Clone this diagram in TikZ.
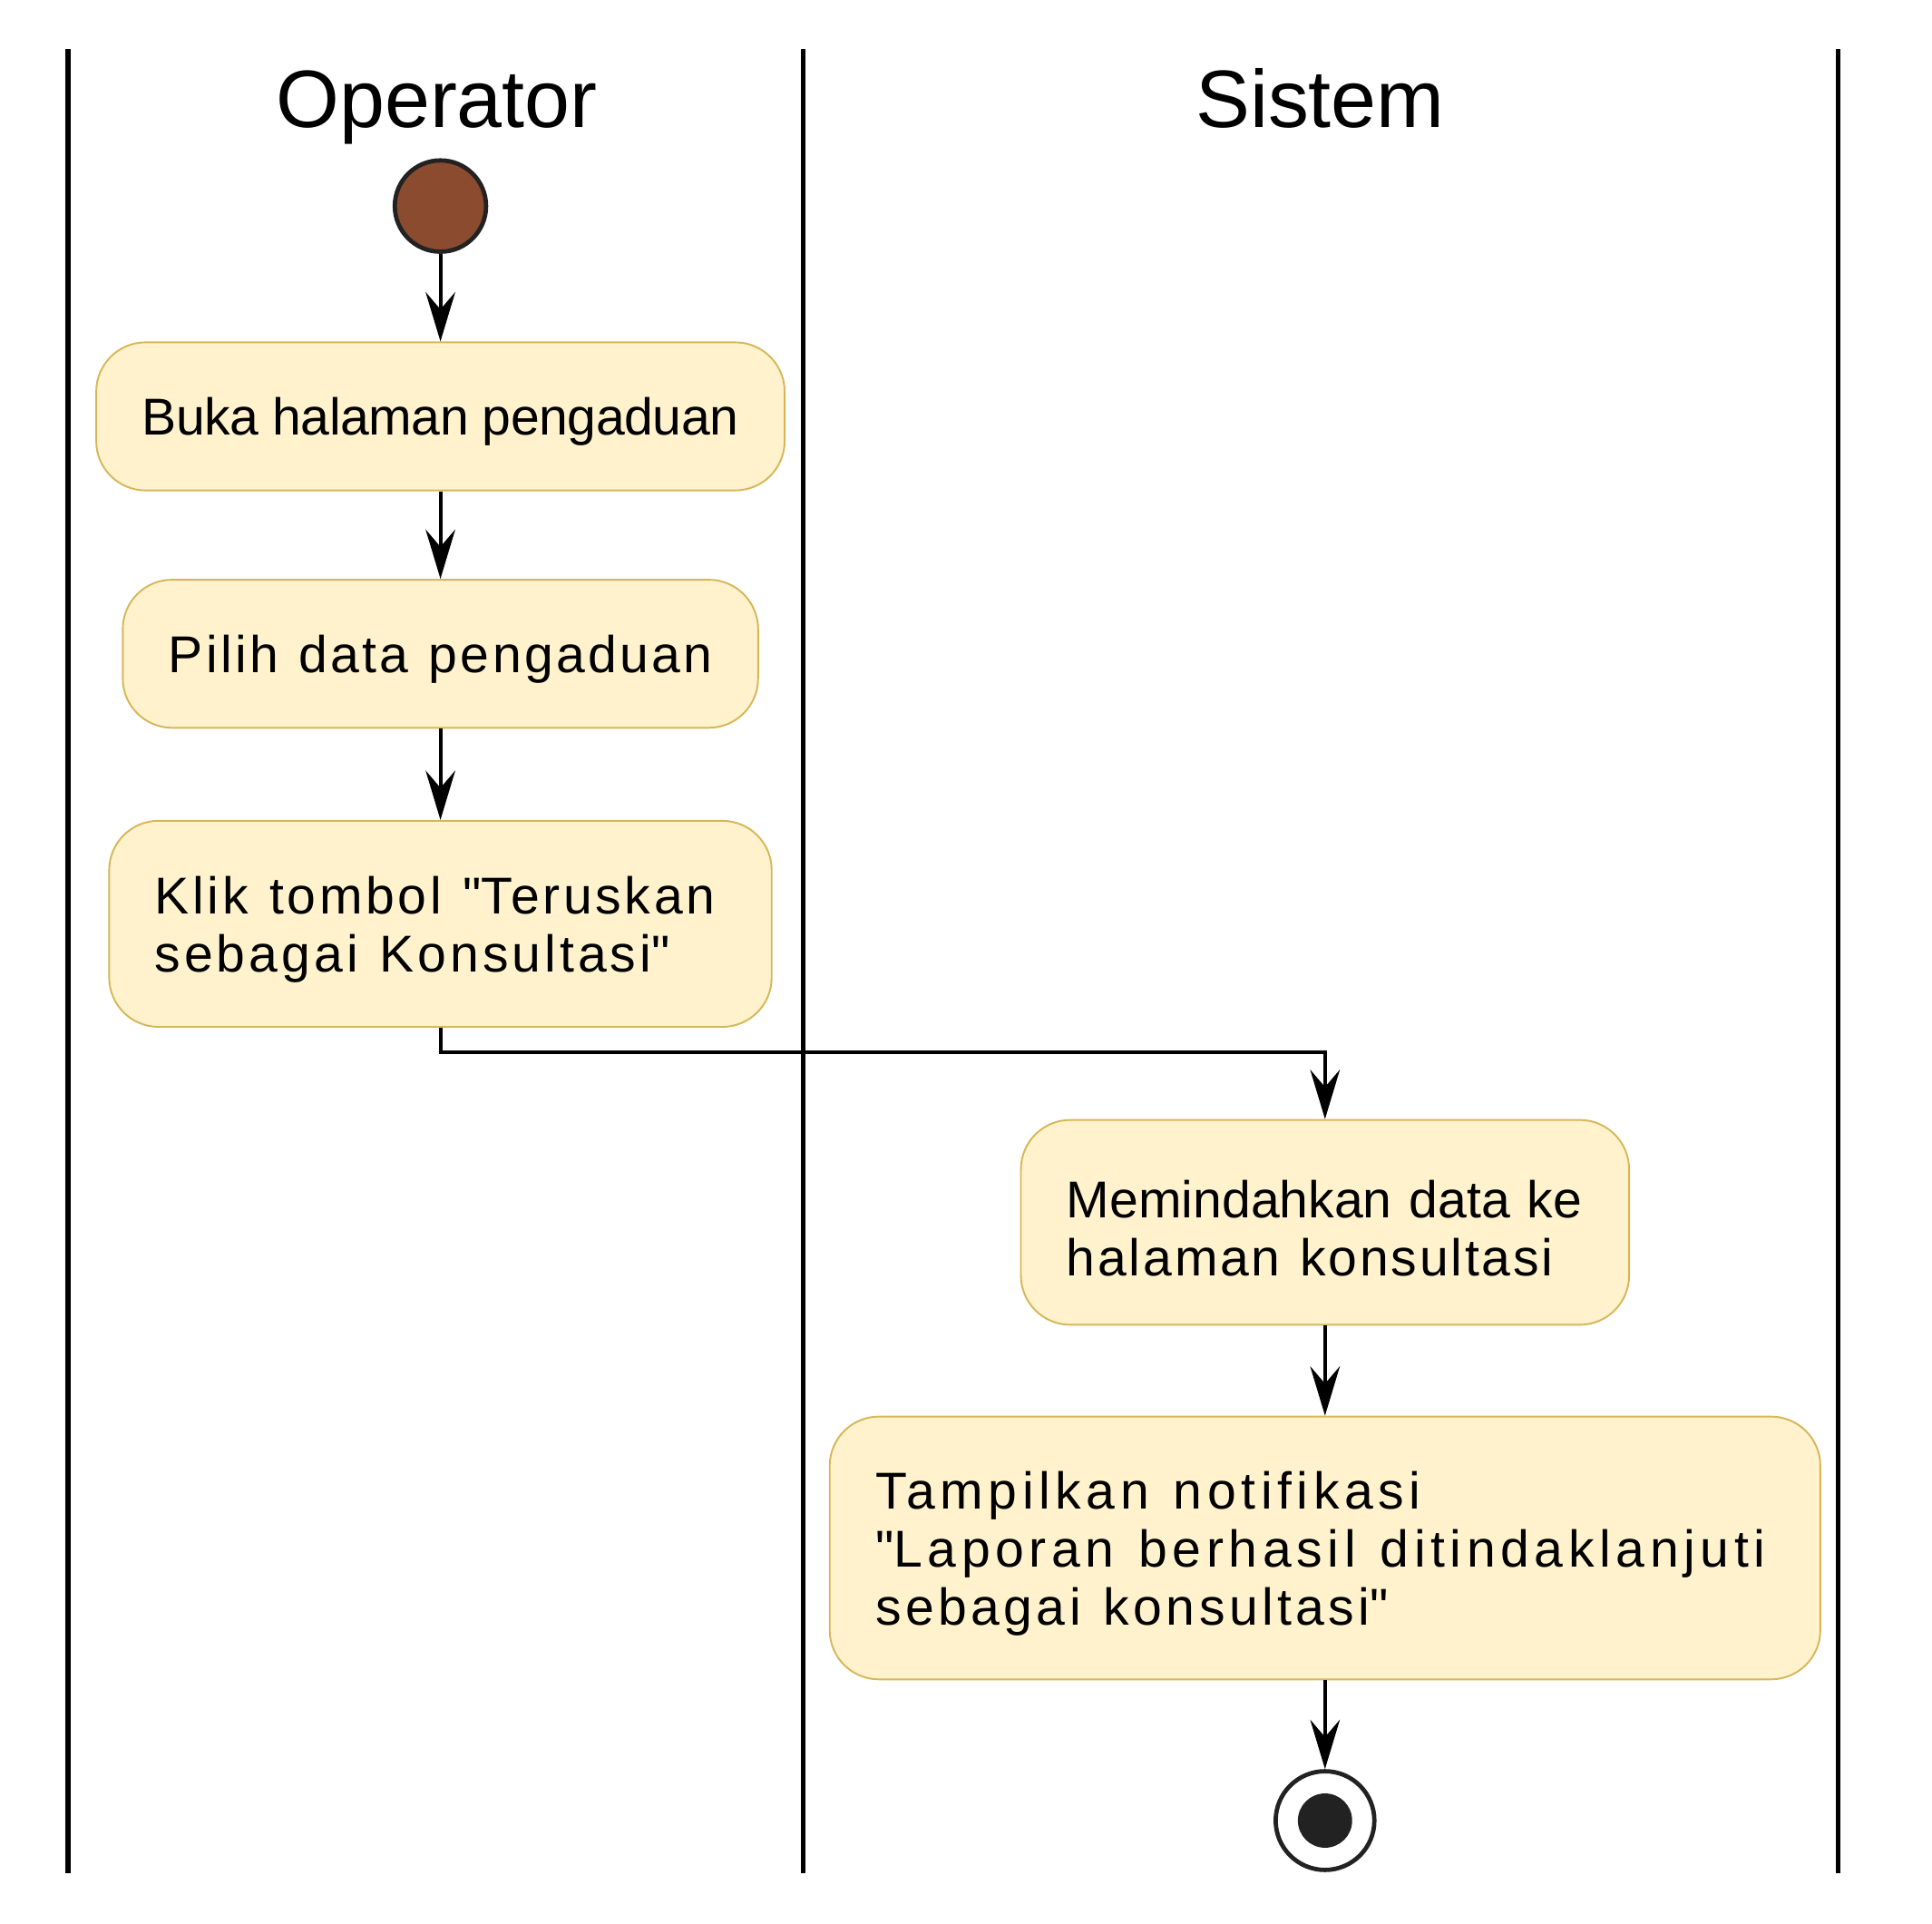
\documentclass[tikz,border=0pt]{standalone}
\usepackage{fontspec}
\setmainfont{Liberation Sans}
\usetikzlibrary{positioning,shapes,arrows.meta}

\definecolor{actfill}{HTML}{FFF2CC}
\definecolor{actline}{HTML}{D6B656}
\definecolor{startfill}{HTML}{8A4B2F}
\definecolor{darkline}{HTML}{222222}
% one line of text, letters and spaces spread by #1 (percent of the font size)
\newcommand{\spaced}[2]{{\addfontfeature{LetterSpace=#1}%
	\spaceskip=\dimexpr\fontdimen2\font+#1em/100\relax#2}}

\begin{document}
\begin{tikzpicture}[
	x=1pt,y=-1pt,
	node distance=71pt and 71pt,
	activity/.style={draw=actline,line width=1.4pt,fill=actfill,rounded corners=40pt,
		inner xsep=37pt,inner ysep=0pt,font=\fontsize{42}{47}\selectfont},
	oneline/.style={activity,text depth=0pt},
	manylines/.style={activity,align=left,execute at begin node={\rule{0pt}{40pt}}},
	lanetitle/.style={anchor=base,font=\fontsize{66}{70}\selectfont},
	flow/.style={line width=3pt,-{Stealth[length=40pt,width=24pt,inset=14pt]}}
	]
	\useasboundingbox (0,0) rectangle (1566,1559);
	% swimlanes
	\draw[line width=4pt] (55,40) -- (55,1518);
	\draw[line width=4pt] (651,40) -- (651,1518);
	\draw[line width=4pt] (1490,40) -- (1490,1518);
	\node[lanetitle] (operator) at (354,103) {Operator};
	\node[lanetitle] (sistem) at (1070,103) {Sistem};
	% operator
	\node[circle,draw=darkline,line width=3.5pt,fill=startfill,minimum size=74pt,inner sep=0pt] (start) at (357,167) {};
	\node[oneline,minimum width=558pt,minimum height=120pt,below=71pt of start] (bukahalaman)
		{\spaced{-0.8}{Buka halaman pengaduan}};
	\node[oneline,minimum width=515pt,minimum height=120pt,below=71pt of bukahalaman] (pilihdata)
		{\spaced{5.8}{Pilih data pengaduan}};
	\node[manylines,minimum height=167pt,text width=463pt,below=74pt of pilihdata] (kliktombol)
		{\spaced{6.5}{Klik tombol \textquotedbl Teruskan}\\\spaced{7.0}{sebagai Konsultasi\textquotedbl}};
	% sistem
	\node[manylines,minimum height=166pt,text width=419pt,anchor=north] (pindahdata) at (1074,907)
		{Memindahkan data ke\\\spaced{4.9}{halaman konsultasi}};
	\node[manylines,minimum height=213pt,text width=729pt,below=73pt of pindahdata] (notifikasi)
		{\spaced{9.8}{Tampilkan notifikasi}\\\spaced{9.8}{\textquotedbl Laporan berhasil ditindaklanjuti}\\\spaced{7.8}{sebagai konsultasi\textquotedbl}};
	\node[circle,draw=darkline,line width=3.5pt,fill=white,minimum size=80pt,inner sep=0pt,below=72pt of notifikasi] (end) {};
	\node[circle,fill=darkline,minimum size=44pt,inner sep=0pt] (endcore) at (end.center) {};
	\path [flow]
	(start) edge (bukahalaman)
	(bukahalaman) edge (pilihdata)
	(pilihdata) edge (kliktombol)
	(pindahdata) edge (notifikasi)
	(notifikasi) edge (end);
	\draw[flow] (kliktombol.south) -- ++(0,20) -| (pindahdata.north);

\end{tikzpicture}
\end{document}
